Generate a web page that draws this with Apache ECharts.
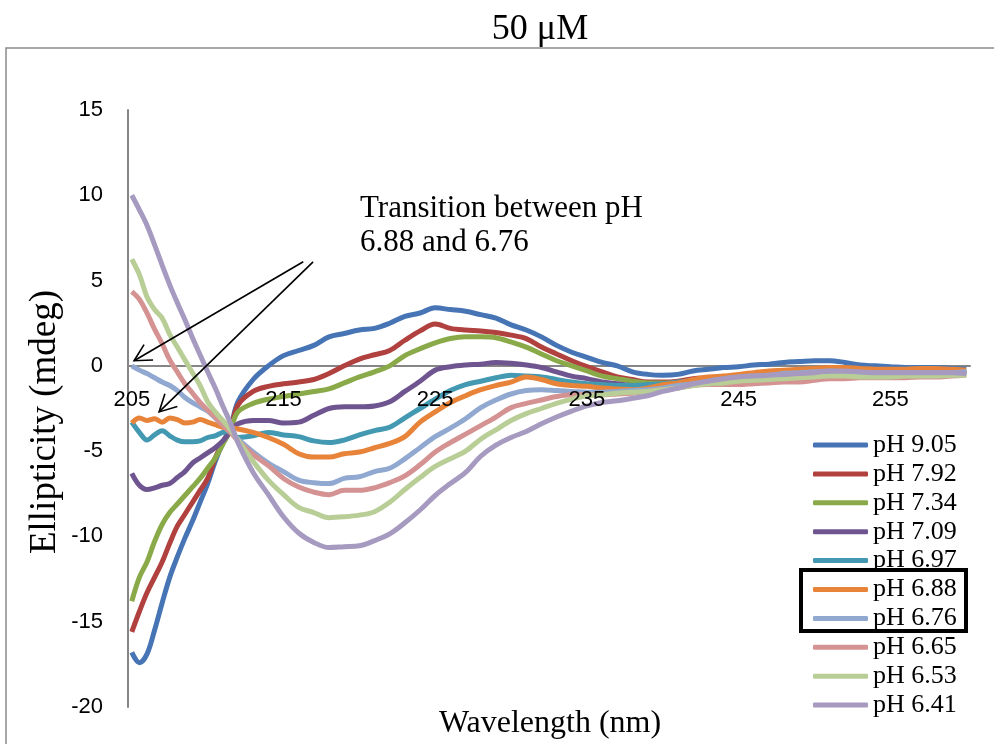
<!DOCTYPE html>
<html>
<head>
<meta charset="utf-8">
<script src="https://cdn.jsdelivr.net/npm/echarts@6/dist/echarts.min.js"></script>
<style>
  html, body { margin: 0; padding: 0; background: #fff; }
  #chart { width: 994px; height: 744px; }
</style>
</head>
<body>
<div id="chart"></div>
<script>
// CD spectra, 50 µM, at ten pH values (wavelength in nm, ellipticity in mdeg)
const wavelengths = [
  205, 205.5, 206, 206.5, 207, 207.5, 208, 208.5, 209, 209.5, 210, 210.5, 211, 211.5,
  212, 213, 214, 215, 216, 217, 218, 219, 220, 221, 222, 223, 224, 225, 226, 227, 228, 229,
  230, 231, 232, 233, 234, 235, 236, 237, 238, 239, 240, 241, 242, 243,
  244, 245, 246, 247, 248, 249, 250, 251, 252, 253, 254, 255, 256, 257, 258, 259, 260
];

const ph905 = [
  -16.8, -17.4, -16.9, -15.5, -13.9, -12.4, -11.2, -10.1, -9.1, -8.0, -6.9, -5.6, -4.5, -3.6,
  -2.1, -0.8, 0.0, 0.6, 0.9, 1.2, 1.7, 1.9, 2.1, 2.2, 2.5, 2.9, 3.1, 3.4, 3.3, 3.2, 3.0, 2.8,
  2.4, 2.1, 1.7, 1.2, 0.8, 0.5, 0.2, 0.0, -0.35, -0.5, -0.55, -0.5, -0.3, -0.2,
  -0.1, -0.05, 0.05, 0.1, 0.2, 0.25, 0.3, 0.3, 0.2, 0.05, 0, -0.05, -0.1, -0.1, -0.1, -0.15, -0.2
];
const ph792 = [
  -15.6, -14.4, -13.3, -12.4, -11.5, -10.4, -9.4, -8.7, -8.0, -7.3, -6.6, -5.4, -4.5, -3.75,
  -2.3, -1.5, -1.2, -1.05, -0.95, -0.8, -0.45, 0.0, 0.4, 0.65, 0.9, 1.5, 2.05, 2.45, 2.2, 2.1, 2.05, 1.95,
  1.8, 1.6, 1.1, 0.7, 0.3, -0.05, -0.35, -0.65, -0.8, -0.95, -0.95, -0.9, -0.75, -0.7,
  -0.65, -0.55, -0.45, -0.4, -0.35, -0.3, -0.25, -0.25, -0.3, -0.35, -0.35, -0.35, -0.35, -0.35, -0.35, -0.4, -0.4
];
const ph734 = [
  -13.8, -12.4, -11.5, -10.3, -9.3, -8.6, -8.1, -7.6, -7.1, -6.6, -6.0, -5.4, -4.6, -3.75,
  -2.7, -2.2, -1.95, -1.8, -1.65, -1.5, -1.35, -1.0, -0.65, -0.35, 0.0, 0.6, 1.0, 1.35, 1.6, 1.7, 1.7, 1.65,
  1.4, 1.1, 0.7, 0.3, 0.0, -0.3, -0.6, -0.75, -0.9, -1.0, -1.0, -1.0, -0.95, -0.9,
  -0.8, -0.75, -0.7, -0.65, -0.6, -0.6, -0.55, -0.5, -0.5, -0.55, -0.6, -0.6, -0.55, -0.55, -0.5, -0.5, -0.5
];
const ph709 = [
  -6.3, -7.0, -7.25, -7.15, -7.0, -6.9, -6.55, -6.2, -5.7, -5.4, -5.1, -4.8, -4.4, -3.85,
  -3.4, -3.2, -3.2, -3.35, -3.3, -2.9, -2.5, -2.4, -2.4, -2.35, -2.1, -1.5, -0.9, -0.25, -0.05, 0.05, 0.1, 0.2,
  0.15, 0.05, -0.1, -0.35, -0.6, -0.75, -0.95, -1.05, -1.15, -1.15, -1.1, -1.0, -0.9, -0.75,
  -0.7, -0.6, -0.55, -0.5, -0.45, -0.4, -0.3, -0.3, -0.35, -0.4, -0.4, -0.4, -0.4, -0.4, -0.4, -0.4, -0.45
];
const ph697 = [
  -3.3, -3.9, -4.35, -4.05, -3.8, -4.1, -4.35, -4.45, -4.45, -4.4, -4.2, -4.1, -3.9, -3.8,
  -4.2, -4.1, -3.9, -4.05, -4.15, -4.4, -4.5, -4.35, -4.05, -3.8, -3.6, -3.05, -2.5, -1.95, -1.45, -1.1, -0.9, -0.7,
  -0.55, -0.6, -0.65, -0.8, -0.95, -1.05, -1.1, -1.15, -1.15, -1.1, -1.05, -0.95, -0.85, -0.75,
  -0.7, -0.6, -0.55, -0.5, -0.45, -0.4, -0.35, -0.3, -0.35, -0.4, -0.4, -0.4, -0.4, -0.4, -0.4, -0.35, -0.35
];
const ph688 = [
  -3.35, -3.05, -3.2, -3.1, -3.3, -3.05, -3.15, -3.35, -3.3, -3.15, -3.3, -3.45, -3.6, -3.65,
  -3.7, -3.9, -4.2, -4.6, -5.15, -5.35, -5.35, -5.15, -5.05, -4.8, -4.55, -4.15, -3.3, -2.7, -2.15, -1.75, -1.4, -1.15,
  -0.95, -0.65, -0.8, -1.05, -1.15, -1.2, -1.3, -1.35, -1.4, -1.3, -1.1, -1.0, -0.8, -0.65,
  -0.6, -0.5, -0.4, -0.3, -0.25, -0.2, -0.15, -0.1, -0.1, -0.15, -0.2, -0.2, -0.2, -0.15, -0.15, -0.2, -0.25
];
const ph676 = [
  0.0, -0.25, -0.45, -0.7, -0.95, -1.15, -1.45, -1.85, -2.15, -2.4, -2.65, -3.05, -3.45, -3.85,
  -4.3, -5.05, -5.7, -6.2, -6.7, -6.85, -6.9, -6.6, -6.5, -6.2, -6.0, -5.45, -4.8, -4.15, -3.65, -3.1, -2.45, -2.0,
  -1.65, -1.45, -1.4, -1.45, -1.5, -1.55, -1.55, -1.5, -1.45, -1.4, -1.3, -1.15, -1.05, -0.9,
  -0.75, -0.65, -0.6, -0.55, -0.45, -0.4, -0.35, -0.3, -0.35, -0.4, -0.4, -0.4, -0.4, -0.4, -0.4, -0.4, -0.35
];
const ph665 = [
  4.35, 3.9, 3.1, 2.15, 1.3, 0.35, -0.35, -1.05, -1.6, -2.15, -2.6, -3.0, -3.5, -3.9,
  -4.4, -5.2, -5.85, -6.6, -7.1, -7.4, -7.55, -7.3, -7.3, -7.15, -6.85, -6.45, -5.8, -5.05, -4.5, -4.0, -3.5, -3.0,
  -2.45, -2.2, -2.0, -1.8, -1.7, -1.7, -1.7, -1.65, -1.6, -1.5, -1.4, -1.3, -1.15, -1.1,
  -1.1, -1.1, -1.05, -1.0, -0.95, -0.95, -0.85, -0.75, -0.75, -0.7, -0.7, -0.7, -0.7, -0.65, -0.65, -0.6, -0.55
];
const ph653 = [
  6.25, 5.35, 4.05, 3.3, 2.8, 1.85, 1.1, 0.35, -0.4, -1.15, -2.1, -2.7, -3.2, -3.75,
  -4.35, -5.6, -6.7, -7.55, -8.3, -8.6, -8.9, -8.85, -8.75, -8.55, -8.0, -7.25, -6.55, -5.9, -5.45, -5.0, -4.3, -3.75,
  -3.2, -2.8, -2.5, -2.2, -1.95, -1.75, -1.7, -1.6, -1.55, -1.5, -1.4, -1.3, -1.15, -1.05,
  -1.0, -0.9, -0.85, -0.8, -0.75, -0.7, -0.65, -0.6, -0.6, -0.65, -0.65, -0.65, -0.6, -0.6, -0.6, -0.55, -0.55
];
const ph641 = [
  10.0, 9.15, 8.25, 7.1, 5.9, 4.75, 3.7, 2.7, 1.65, 0.65, -0.35, -1.3, -2.35, -3.35,
  -4.5, -6.25, -7.55, -8.85, -9.8, -10.35, -10.65, -10.6, -10.55, -10.25, -9.85, -9.2, -8.45, -7.6, -6.9, -6.25, -5.3, -4.65,
  -4.2, -3.85, -3.4, -3.0, -2.65, -2.35, -2.15, -2.05, -1.9, -1.75, -1.5, -1.3, -1.05, -0.9,
  -0.75, -0.65, -0.6, -0.55, -0.5, -0.45, -0.4, -0.3, -0.3, -0.35, -0.4, -0.4, -0.4, -0.4, -0.4, -0.4, -0.45
];

const seriesNames = ['pH 9.05', 'pH 7.92', 'pH 7.34', 'pH 7.09', 'pH 6.97',
                     'pH 6.88', 'pH 6.76', 'pH 6.65', 'pH 6.53', 'pH 6.41'];
const seriesValues = [ph905, ph792, ph734, ph709, ph697, ph688, ph676, ph665, ph653, ph641];
const xTickLabels = [205, 215, 225, 235, 245, 255];
const yMin = -20, yMax = 15, yStep = 5;
const xMin = 204.75, xMax = 260.25;

const colors = ['#4674B4', '#B0413E', '#8AAA4A', '#6F5590', '#4299B1',
                '#E8843A', '#91A8D0', '#D49392', '#B8CE96', '#A79AC0'];

const serif = 'Liberation Serif, Times New Roman, serif';
const sans = 'Liberation Sans, Arial, sans-serif';

// plot box
const gridBox = { left: 128, right: 24, top: 110, bottom: 37 };
const plotHeight = 744 - gridBox.top - gridBox.bottom;
// the wavelength axis (line and labels) sits on the zero line
const xAxisOffset = -(0 - yMin) / (yMax - yMin) * plotHeight;

const chart = echarts.init(document.getElementById('chart'), null, { renderer: 'canvas' });

const series = seriesNames.map((name, k) => ({
  type: 'line',
  name: name,
  data: wavelengths.map((w, i) => [w, seriesValues[k][i]]),
  smooth: 0.35,
  symbol: 'none',
  lineStyle: { width: 5, color: colors[k] },
  itemStyle: { color: colors[k] },
  emphasis: { disabled: true }
}));

const baseXAxis = {
  type: 'value',
  min: xMin,
  max: xMax,
  position: 'bottom',
  offset: xAxisOffset,
  axisTick: { show: false },
  splitLine: { show: false }
};

const option = {
  animation: false,
  backgroundColor: '#ffffff',
  grid: gridBox,
  xAxis: [
    // zero line, drawn under the curves
    Object.assign({}, baseXAxis, {
      z: 0,
      axisLine: { onZero: false, lineStyle: { color: '#868686', width: 2 } },
      axisLabel: { show: false }
    }),
    // wavelength labels, drawn over the curves
    Object.assign({}, baseXAxis, {
      z: 10,
      axisLine: { show: false, onZero: false },
      axisLabel: {
        customValues: xTickLabels,
        margin: 23,
        color: '#000',
        fontFamily: sans,
        fontSize: 22
      }
    })
  ],
  yAxis: {
    type: 'value',
    min: yMin,
    max: yMax,
    interval: yStep,
    axisLine: { show: true, lineStyle: { color: '#868686', width: 2 } },
    axisTick: { show: false },
    splitLine: { show: false },
    axisLabel: { margin: 25, color: '#000', fontFamily: sans, fontSize: 22 }
  },
  legend: {
    orient: 'vertical',
    left: 813,
    top: 432,
    padding: 0,
    itemWidth: 55,
    itemHeight: 5,
    itemGap: 2.9,
    icon: 'roundRect',
    selectedMode: false,
    data: seriesNames,
    textStyle: { fontFamily: serif, fontSize: 26, lineHeight: 26, color: '#000' }
  },
  series: series
};

chart.setOption(option);

// Annotation arrows, given in data units: [tail, tip]
const arrows = [
  [[216.3, 6.1], [205.15, 0.3]],
  [[216.95, 6.1], [206.8, -2.7]]
];
const headLen = 19;
const headAngle = 28 * Math.PI / 180;

const arrowGraphics = [];
arrows.forEach((a, i) => {
  const p0 = chart.convertToPixel({ gridIndex: 0 }, a[0]);
  const p1 = chart.convertToPixel({ gridIndex: 0 }, a[1]);
  const back = Math.atan2(p0[1] - p1[1], p0[0] - p1[0]);
  const arm = (s) => [p1[0] + headLen * Math.cos(back + s * headAngle),
                      p1[1] + headLen * Math.sin(back + s * headAngle)];
  arrowGraphics.push({
    type: 'polyline', id: 'arrow-shaft-' + i, z: 50, silent: true,
    shape: { points: [p0, p1] },
    style: { stroke: '#000', lineWidth: 1.6, fill: null }
  });
  arrowGraphics.push({
    type: 'polyline', id: 'arrow-head-' + i, z: 50, silent: true,
    shape: { points: [arm(1), p1, arm(-1)] },
    style: { stroke: '#000', lineWidth: 1.6, fill: null, lineJoin: 'miter' }
  });
});

const textStyleCommon = { fill: '#000' };

chart.setOption({
  graphic: [
    {
      type: 'rect', id: 'frame', z: 0, silent: true,
      shape: { x: 6, y: 48, width: 1100, height: 800 },
      style: { fill: 'none', stroke: '#8a8a8a', lineWidth: 1.5 }
    },
    {
      type: 'text', id: 'title', silent: true, x: 540, y: 30,
      style: Object.assign({ text: '50 μM', font: '36px ' + serif,
               align: 'center', verticalAlign: 'middle',
               textAlign: 'center', textVerticalAlign: 'middle' }, textStyleCommon)
    },
    {
      type: 'text', id: 'y-name', silent: true, x: 45, y: 422, rotation: Math.PI / 2,
      style: Object.assign({ text: 'Ellipticity (mdeg)', font: '37px ' + serif,
               align: 'center', verticalAlign: 'middle',
               textAlign: 'center', textVerticalAlign: 'middle' }, textStyleCommon)
    },
    {
      type: 'text', id: 'x-name', silent: true, x: 550, y: 724,
      style: Object.assign({ text: 'Wavelength (nm)', font: '32px ' + serif,
               align: 'center', verticalAlign: 'middle',
               textAlign: 'center', textVerticalAlign: 'middle' }, textStyleCommon)
    },
    {
      type: 'text', id: 'note', silent: true, x: 360, y: 192,
      style: Object.assign({ text: 'Transition between pH\n6.88 and 6.76', font: '31px ' + serif,
               lineHeight: 34,
               align: 'left', verticalAlign: 'top',
               textAlign: 'left', textVerticalAlign: 'top' }, textStyleCommon)
    },
    {
      type: 'rect', id: 'legend-box', z: 100, silent: true,
      shape: { x: 801, y: 570, width: 165, height: 61 },
      style: { fill: 'none', stroke: '#000', lineWidth: 4 }
    }
  ].concat(arrowGraphics)
});
</script>
</body>
</html>
